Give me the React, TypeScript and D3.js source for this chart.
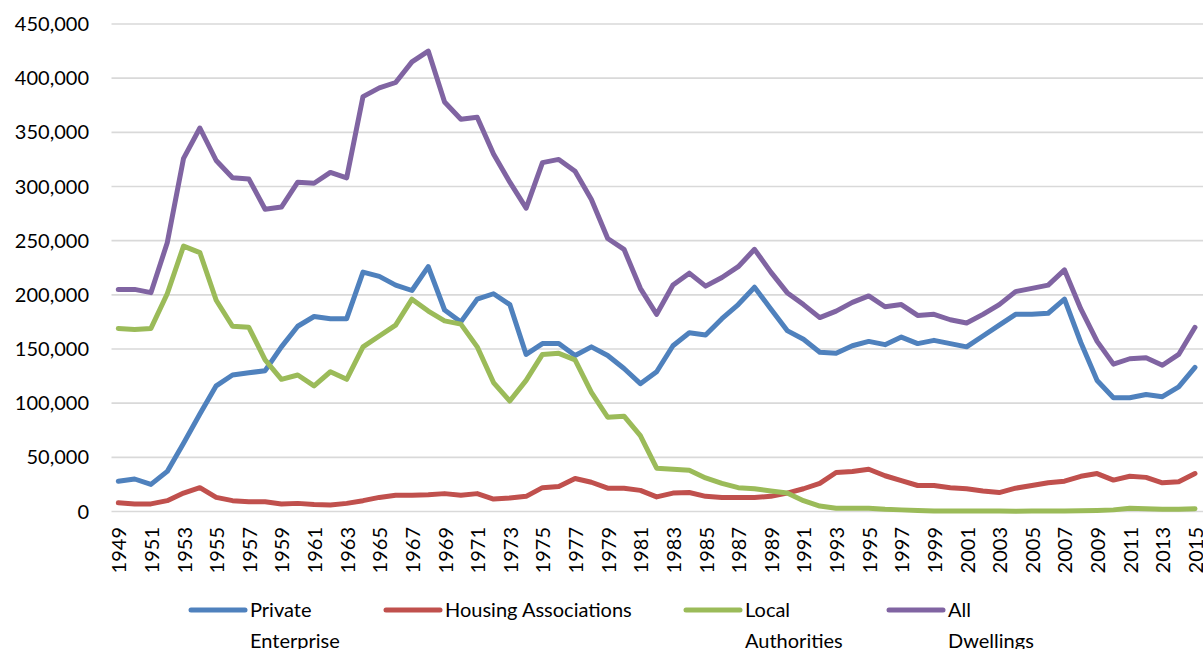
import React from "react";
import * as d3 from "d3";

const WIDTH = 1203;
const HEIGHT = 649;
const FONT = "Lato, 'Open Sans', sans-serif";

const years = d3.range(1949, 2016);

const privateEnterprise = [
  28000, 30000, 25000, 37000, 63000, 90000, 116000, 126000, 128000, 130000,
  152000, 171000, 180000, 178000, 178000, 221000, 217000, 209000, 204000, 226000,
  186000, 175000, 196000, 201000, 191000, 145000, 155000, 155000, 144000, 152000,
  144000, 132000, 118000, 129000, 153000, 165000, 163000, 178000, 191000, 207000,
  187000, 167000, 159000, 147000, 146000, 153000, 157000, 154000, 161000, 155000,
  158000, 155000, 152000, 162000, 172000, 182000, 182000, 183000, 196000, 156000,
  121000, 105000, 105000, 108000, 106000, 115000, 133000,
];

const housingAssociations = [
  8000, 7000, 7000, 10000, 17000, 22000, 13000, 10000, 9000, 9000,
  7000, 7500, 6500, 6000, 7500, 10000, 13000, 15000, 15000, 15500,
  16500, 15000, 16500, 11500, 12500, 14000, 22000, 23000, 30500, 27000,
  21500, 21500, 19500, 13500, 17000, 17500, 14000, 13000, 13000, 13000,
  14000, 17000, 21000, 26000, 36000, 37000, 39000, 33000, 28500, 24000,
  24000, 22000, 21000, 19000, 17500, 21500, 24000, 26500, 28000, 32500,
  35000, 29000, 32500, 31500, 26500, 27500, 35000,
];

const localAuthorities = [
  169000, 168000, 169000, 201000, 245000, 239000, 195000, 171000, 170000, 140000,
  122000, 126000, 116000, 129000, 122000, 152000, 162000, 172000, 196000, 185000,
  176000, 173000, 152000, 119000, 102000, 121000, 145000, 146000, 140000, 110000,
  87000, 88000, 70000, 40000, 39000, 38000, 31000, 26000, 22000, 21000,
  19000, 17000, 10000, 5000, 3000, 3000, 3000, 2000, 1500, 1000,
  500, 500, 500, 500, 500, 300, 500, 500, 500, 700,
  1000, 1500, 3000, 2500, 2000, 2000, 2500,
];

const allDwellings = [
  205000, 205000, 202000, 248000, 326000, 354000, 324000, 308000, 307000, 279000,
  281000, 304000, 303000, 313000, 308000, 383000, 391000, 396000, 415000, 425000,
  378000, 362000, 364000, 330000, 304000, 280000, 322000, 325000, 314000, 288000,
  252000, 242000, 206000, 182000, 209000, 220000, 208000, 216000, 226000, 242000,
  221000, 202000, 191000, 179000, 185000, 193000, 199000, 189000, 191000, 181000,
  182000, 177000, 174000, 182000, 191000, 203000, 206000, 209000, 223000, 187000,
  157000, 136000, 141000, 142000, 135000, 145000, 170000,
];

const seriesNames = [
  ["Private", "Enterprise"],
  ["Housing Associations"],
  ["Local", "Authorities"],
  ["All", "Dwellings"],
];
const seriesColors = ["#4F81BD", "#C0504D", "#9BBB59", "#8064A2"];
const seriesValues = [privateEnterprise, housingAssociations, localAuthorities, allDwellings];

const yTicks = d3.range(0, 450001, 50000);
const legendX = [191, 386, 686, 889];

export default function App() {
  const x = d3.scalePoint<number>().domain(years).range([118.3, 1195]);
  const y = d3.scaleLinear().domain([0, 450000]).range([511.5, 24]);
  const fmt = d3.format(",");

  const line = d3
    .line<number>()
    .x((d, i) => x(years[i]) as number)
    .y((d) => y(d));

  return (
    <svg
      width={WIDTH}
      height={HEIGHT}
      style={{ position: "absolute", left: 0, top: 0, background: "#fff" }}
      fontFamily={FONT}
    >
      {yTicks.map((t) => (
        <g key={t}>
          <line x1={111.5} x2={WIDTH} y1={y(t)} y2={y(t)} stroke="#D9D9D9" strokeWidth={1.6} />
          <text x={89} y={y(t)} dy="0.35em" textAnchor="end" fontSize={20} fill="#000">
            {fmt(t)}
          </text>
        </g>
      ))}

      {years
        .filter((d, i) => i % 2 === 0)
        .map((yr) => (
          <text
            key={yr}
            transform={`translate(${(x(yr) as number) + 1},527) rotate(-90)`}
            dy="0.35em"
            textAnchor="end"
            fontSize={20}
            fill="#000"
          >
            {yr}
          </text>
        ))}

      {seriesValues.map((vals, k) => (
        <path
          key={k}
          d={line(vals) || ""}
          fill="none"
          stroke={seriesColors[k]}
          strokeWidth={5}
          strokeLinejoin="round"
          strokeLinecap="round"
        />
      ))}

      {seriesNames.map((lines, k) => (
        <g key={k} transform={`translate(${legendX[k]},0)`}>
          <line x1={0} x2={54} y1={610} y2={610} stroke={seriesColors[k]} strokeWidth={5} strokeLinecap="round" />
          {lines.map((s, j) => (
            <text key={j} x={59} y={617 + j * 31} fontSize={20} fill="#000">
              {s}
            </text>
          ))}
        </g>
      ))}
    </svg>
  );
}
